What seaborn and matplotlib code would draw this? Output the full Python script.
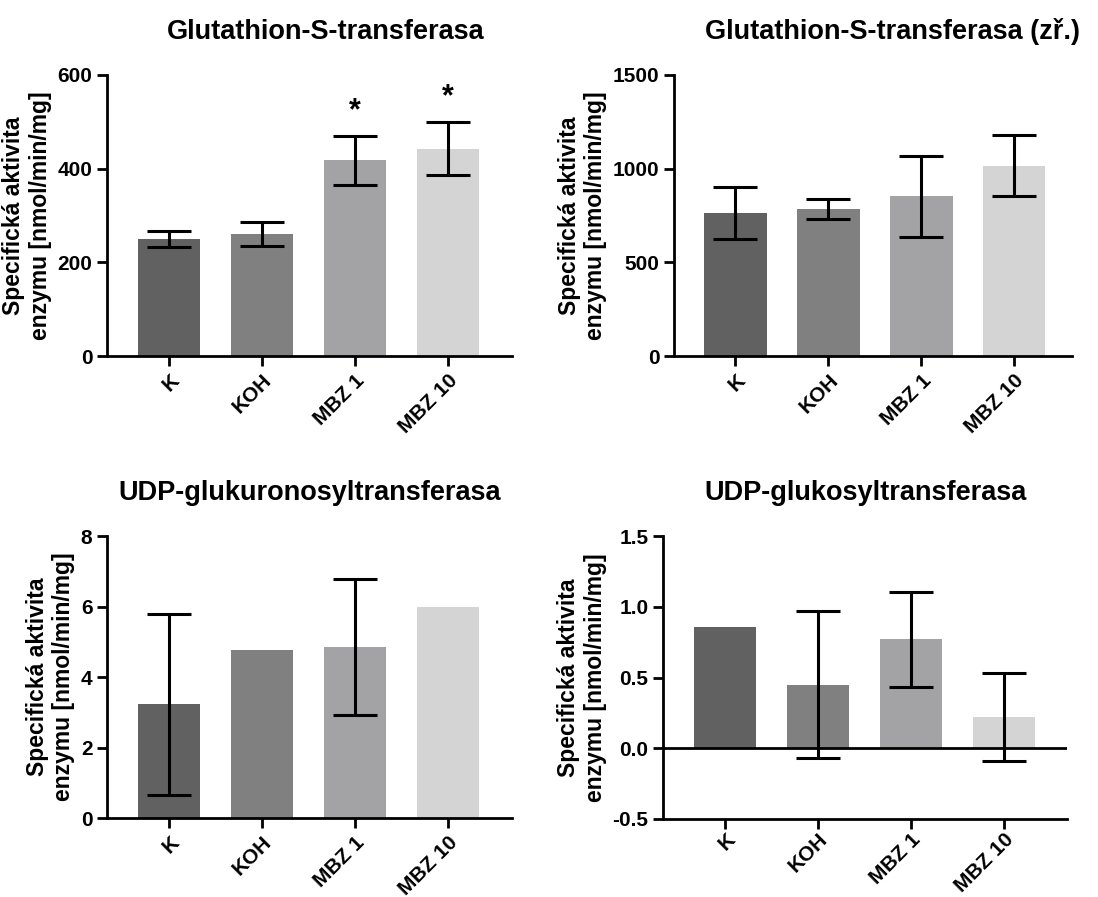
#!/usr/bin/env python3
import numpy as np
import pandas as pd
import seaborn as sns
import matplotlib.pyplot as plt

sns.set_style("ticks")
plt.rcParams["font.family"] = ["Liberation Sans", "DejaVu Sans"]
plt.rcParams["font.weight"] = "bold"
plt.rcParams["text.color"] = "black"
plt.rcParams["axes.labelcolor"] = "black"
plt.rcParams["xtick.color"] = "black"
plt.rcParams["ytick.color"] = "black"

GROUPS = ["K", "KOH", "MBZ 1", "MBZ 10"]
COLORS = ["#616161", "#808080", "#a2a2a6", "#d4d4d4"]
YLABEL = "Specifická aktivita\nenzymu [nmol/min/mg]"

# Glutathion-S-transferasa
gst_mean = [250, 260, 418, 443]
gst_err = [17, 26, 52, 56]
gst_star = [False, False, True, True]

# Glutathion-S-transferasa (zř.)
gstz_mean = [765, 783, 852, 1016]
gstz_err = [139, 54, 217, 162]

# UDP-glukuronosyltransferasa
ugt_mean = [3.22, 4.78, 4.85, 6.0]
ugt_err = [2.56, np.nan, 1.92, np.nan]

# UDP-glukosyltransferasa
uglc_mean = [0.86, 0.45, 0.77, 0.22]
uglc_err = [np.nan, 0.52, 0.335, 0.31]

W, H = 1098, 897


def rect(x0, x1, y_top, y_bot):
    return [x0 / W, 1 - y_bot / H, (x1 - x0) / W, (y_bot - y_top) / H]


def panel(fig, pos, mean, err, title, ylim, yticks, xlim, yfmt,
          stars=None, zero_line=False, title_x=0.5, xpad=3.5):
    ax = fig.add_axes(pos)
    df = pd.DataFrame({"group": GROUPS, "value": mean, "err": err})
    sns.barplot(data=df, x="group", y="value", hue="group", palette=COLORS,
                width=0.67, linewidth=0, legend=False, ax=ax)
    xs = np.arange(len(GROUPS))
    ax.errorbar(xs, df["value"], yerr=df["err"], fmt="none", ecolor="black",
                elinewidth=2.2, capsize=16, capthick=2.2, zorder=5)
    if stars is not None:
        top = df["value"] + df["err"].fillna(0)
        span = ylim[1] - ylim[0]
        for x, t, s in zip(xs, top, stars):
            if s:
                ax.text(x, t + span * 0.035, "*", ha="center", va="bottom",
                        fontsize=22, fontweight="bold", color="black")
    if zero_line:
        ax.axhline(0, color="black", lw=2, zorder=6)
    ax.set_ylim(*ylim)
    ax.set_xlim(*xlim)
    ax.set_yticks(yticks)
    ax.set_yticklabels([yfmt.format(v) for v in yticks])
    ax.set_xlabel("")
    ax.set_ylabel(YLABEL, fontsize=16.5, fontweight="bold", color="black")
    ax.set_title(title, fontsize=19.5, fontweight="bold", pad=26, x=title_x, color="black")
    ax.set_xticks(xs)
    ax.set_xticklabels(GROUPS, rotation=45, ha="right", rotation_mode="anchor")
    ax.tick_params(axis="both", length=7, width=2, labelsize=15, color="black",
                   labelcolor="black")
    ax.tick_params(axis="x", pad=xpad)
    for lab in ax.get_xticklabels() + ax.get_yticklabels():
        lab.set_fontweight("bold")
    sns.despine(ax=ax)
    for sp in ["left", "bottom"]:
        ax.spines[sp].set_linewidth(2)
        ax.spines[sp].set_color("black")
    return ax


fig = plt.figure(figsize=(W / 100, H / 100), dpi=100)

panel(fig, rect(107, 512, 75, 356), gst_mean, gst_err, "Glutathion-S-transferasa",
      (0, 600), [0, 200, 400, 600], (-0.67, 3.69), "{:.0f}", stars=gst_star, title_x=0.54)
panel(fig, rect(674, 1072, 75, 356), gstz_mean, gstz_err, "Glutathion-S-transferasa (zř.)",
      (0, 1500), [0, 500, 1000, 1500], (-0.66, 3.62), "{:.0f}", title_x=0.55)
panel(fig, rect(107, 512, 536, 818), ugt_mean, ugt_err, "UDP-glukuronosyltransferasa",
      (0, 8), [0, 2, 4, 6, 8], (-0.67, 3.69), "{:.0f}")
panel(fig, rect(663, 1067, 536, 819), uglc_mean, uglc_err, "UDP-glukosyltransferasa",
      (-0.5, 1.5), [-0.5, 0.0, 0.5, 1.0, 1.5], (-0.67, 3.68), "{:.1f}",
      zero_line=True, xpad=1)

fig.savefig("out.png", dpi=100)
